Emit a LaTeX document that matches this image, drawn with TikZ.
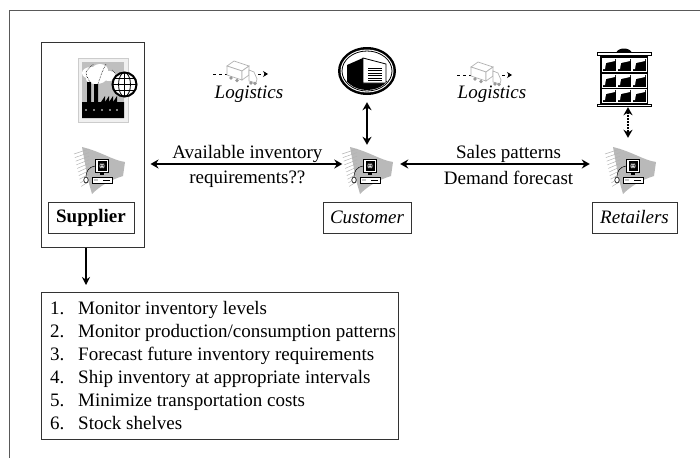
\documentclass[tikz,border=0pt]{standalone}
\usepackage{fontspec}
\setmainfont{Liberation Serif}
\usetikzlibrary{arrows.meta}

\tikzset{
  box/.style={draw=black!80, line width=1pt, inner sep=0pt},
  spot/.style={inner sep=0pt, minimum width=50pt, minimum height=38pt},
  link/.style={line width=2pt, {Stealth[length=8pt,width=9pt]}-{Stealth[length=8pt,width=9pt]}},
  % desktop computer on a swept paper backdrop
  computer/.pic={
    \begin{scope}[shift={(2.5,4)}]
      \fill[gray!55] (-20,-21) .. controls (0,-16) and (10,-8) .. (23,-6)
        -- (21,8) .. controls (8,12) and (-2,18) .. (-10,26) -- (-14,12) -- cycle;
      \foreach \k in {0,...,9}
        \draw[gray!60, line width=0.5pt] (-28+\k*0.8,-14+\k*3.6) -- (-13,-19+\k*3.6);
      \draw[line width=0.5pt] (-6.5,-2) .. controls (-14,-1) and (-16,4) .. (-16,9);
      \filldraw[fill=white, line width=0.6pt] (-16,12) ellipse (2.2 and 3);
      \filldraw[fill=white, line width=0.8pt] (-6.5,-9) rectangle (6.5,4.5);
      \fill (-4.5,-7) rectangle (4.5,2.5);
      \filldraw[fill=white, line width=0.4pt] (0,-2.25) circle (3);
      \draw[line width=0.3pt] (-3,-2.25) -- (3,-2.25) (0,-5.25) -- (0,0.75) (0,-2.25) ellipse (1.4 and 3);
      \fill (-2,4.5) rectangle (2,6.5);
      \filldraw[fill=white, line width=0.8pt] (-10,9) rectangle (10,15);
      \draw[line width=0.6pt] (1,12) -- (8,12);
      \fill (-7,12) circle (0.7) (-5,12) circle (0.7);
    \end{scope}
  },
  % smoking works with a globe
  factory/.pic={
    \filldraw[fill=gray!12, draw=gray!40] (-25,-32) rectangle (25,32);
    \fill[gray!50] (-21,-28) rectangle (21,28);
    \fill[white] (-12,-17) ellipse (9 and 6) (-3,-20) ellipse (8 and 6)
      (6,-14) ellipse (8 and 5) (-7,-11) ellipse (10 and 5);
    \draw[densely dotted, line width=0.6pt] (-13,-8) .. controls (-19,-18) .. (-9,-26)
      (-5,-6) .. controls (-1,-18) .. (3,-26) (9,-20) .. controls (13,-16) .. (14,-8);
    \fill (-21,28) -- (-21,12) -- (-16,12) -- (-16,-8) -- (-12,-8) -- (-12,12)
      -- (-9,12) -- (-9,-6) -- (-5,-6) -- (-5,12) -- (-2,12) -- (2,6) -- (2,12)
      -- (6,6) -- (6,12) -- (10,6) -- (10,12) -- (14,6) -- (14,12) -- (21,12)
      -- (21,28) -- cycle;
    \fill[white] (-17,20) circle (0.8) (-9,20) circle (0.8) (-1,20) circle (0.8)
      (7,20) circle (0.8) (14,20) circle (0.8);
    \filldraw[fill=white, line width=2pt] (21.5,-5.5) circle (12);
    \draw[line width=0.8pt] (21.5,-17.5) -- (21.5,6.5) (9.5,-5.5) -- (33.5,-5.5)
      (21.5,-5.5) ellipse (6 and 12) (11.5,-11.5) -- (31.5,-11.5) (11.5,0.5) -- (31.5,0.5);
  },
  % distribution depot in a round badge
  warehouse/.pic={
    \fill (0,0) ellipse (29 and 24);
    \fill[white] (0,0) ellipse (26.5 and 21.5);
    \draw[line width=0.8pt] (0,0) ellipse (25 and 20);
    \begin{scope}
      \clip (0,0) ellipse (24 and 19);
      \fill (-24,10) rectangle (24,19);
      \fill (-20,12) -- (-20,-6) -- (-4,-13) -- (-4,12) -- cycle;
      \filldraw[fill=white, line width=0.8pt] (-4,-13) -- (19,-7) -- (19,12) -- (-4,12) -- cycle;
      \foreach \y in {-3,-0.5,...,10}
        \draw[line width=0.5pt] (1,\y) -- (15,\y);
    \end{scope}
  },
  % shop front, three floors of windows
  storefront/.pic={
    \fill (-24,-22) rectangle (24,27);
    \fill (-8,-24) .. controls (-6,-30) and (6,-30) .. (8,-24) -- cycle;
    \filldraw[fill=white, line width=0.8pt] (-27,-25) rectangle (27,-22);
    \filldraw[fill=white, line width=0.8pt] (-27,27) rectangle (27,29.5);
    \foreach \c in {-22,-7,8}
      \foreach \r in {-19,-3,12} {
        \draw[white, line width=0.8pt] (\c,\r) rectangle ++(14,13);
        \fill[white] (\c+1,\r+1) -- (\c+13,\r+1) -- (\c+13,\r+3) -- (\c+4,\r+5)
          -- (\c+3,\r+11) -- (\c+1,\r+11) -- cycle;
      }
  },
  % lorry between a dashed lead-in and a dashed arrow
  truck/.pic={
    \draw[dashed, line width=0.8pt] (-27,1) -- (-13,1);
    \draw[dashed, line width=0.8pt, -{Stealth[length=5pt,width=6pt]}] (18,1) -- (28,1);
    \begin{scope}[draw=gray!60, line width=0.7pt, fill=white]
      \filldraw (-13,-7) -- (-6,-12) -- (9,-7) -- (2,-2) -- cycle;
      \filldraw (-13,-7) -- (2,-2) -- (2,7) -- (-13,2) -- cycle;
      \filldraw (2,-2) -- (9,-7) -- (9,2) -- (2,7) -- cycle;
      \filldraw (9,-3) -- (14,-1) -- (17,6) -- (16,10) -- (9,8) -- cycle;
    \end{scope}
    \fill[gray!80] (-9,5) circle (1.8) (-3,7.5) circle (1.8) (11,10) circle (1.8) (15,10.5) circle (1.8);
  }
}

\begin{document}
\begin{tikzpicture}[x=1pt, y=-1pt, font=\fontsize{19}{23}\selectfont]
  \useasboundingbox (0,0) rectangle (700,458);
  % page frame, only top and left edge
  \draw[black!65, line width=1pt] (9,458) -- (9,10) -- (700,10);

  % supplier column
  \node[box, minimum width=103pt, minimum height=205pt] (supbox) at (92.5,144.5) {};
  \node[inner sep=0pt, minimum width=62pt, minimum height=64pt] (factory) at (103,90) {};
  \pic at (factory) {factory};
  \node[spot] (suppc) at (99.5,164) {};
  \pic at (suppc) {computer};
  \node[box, minimum width=86pt, minimum height=31pt] (suplab) at (91,218) {\textbf{Supplier}};

  % customer column
  \node[inner sep=0pt, minimum width=58pt, minimum height=48pt] (wh) at (367,71) {};
  \pic at (wh) {warehouse};
  \node[spot] (custpc) at (367.5,164) {};
  \pic at (custpc) {computer};
  \node[box, minimum width=88pt, minimum height=31pt] (custlab) at (367,217.5) {\textit{Customer}};

  % retailers column
  \node[inner sep=0pt, minimum width=54pt, minimum height=58pt] (shop) at (624,77) {};
  \pic at (shop) {storefront};
  \node[spot] (retpc) at (630.5,164) {};
  \pic at (retpc) {computer};
  \node[box, minimum width=85pt, minimum height=31pt] (retlab) at (634.5,217.5) {\textit{Retailers}};

  % goods flow
  \node (logl) at (249,94) {\textit{Logistics}};
  \pic at ([xshift=-9pt,yshift=21pt]logl) {truck};
  \node (logr) at (492,94) {\textit{Logistics}};
  \pic at ([xshift=-8pt,yshift=20pt]logr) {truck};

  % supplier duties
  \node[box, anchor=north west, minimum width=357pt, minimum height=147pt] (tasks) at (41,292) {};
  \node[anchor=west, align=left, inner sep=0pt] (duties) at ([xshift=9pt]tasks.west)
    {\makebox[28pt][l]{1.}Monitor inventory levels\\
     \makebox[28pt][l]{2.}Monitor production/consumption patterns\\
     \makebox[28pt][l]{3.}Forecast future inventory requirements\\
     \makebox[28pt][l]{4.}Ship inventory at appropriate intervals\\
     \makebox[28pt][l]{5.}Minimize transportation costs\\
     \makebox[28pt][l]{6.}Stock shelves};

  % information links
  \draw[link, shorten <=6pt] (suppc -| supbox.east) -- (custpc.west)
    node[pos=0.52, above, inner sep=0pt] {Available inventory}
    node[pos=0.52, below, inner sep=6pt] {requirements??};
  \draw[link, shorten <=7.5pt, shorten >=15.5pt] (custpc.east) -- (retpc.west)
    node[pos=0.545, above, inner sep=0pt] {Sales patterns}
    node[pos=0.545, below, inner sep=6pt] {Demand forecast};
  \draw[link, shorten <=7pt] (wh.south) -- (wh.south |- custpc.north);
  \draw[link, densely dotted, shorten <=1pt, shorten >=7pt]
    ([xshift=4pt]shop.south) -- ([xshift=4pt]shop.south |- retpc.north);
  \draw[line width=1.5pt, -{Stealth[length=8pt,width=8pt]}, shorten >=7pt]
    ([xshift=-6.5pt]supbox.south) -- ([xshift=-6.5pt]supbox.south |- tasks.north);
\end{tikzpicture}
\end{document}
